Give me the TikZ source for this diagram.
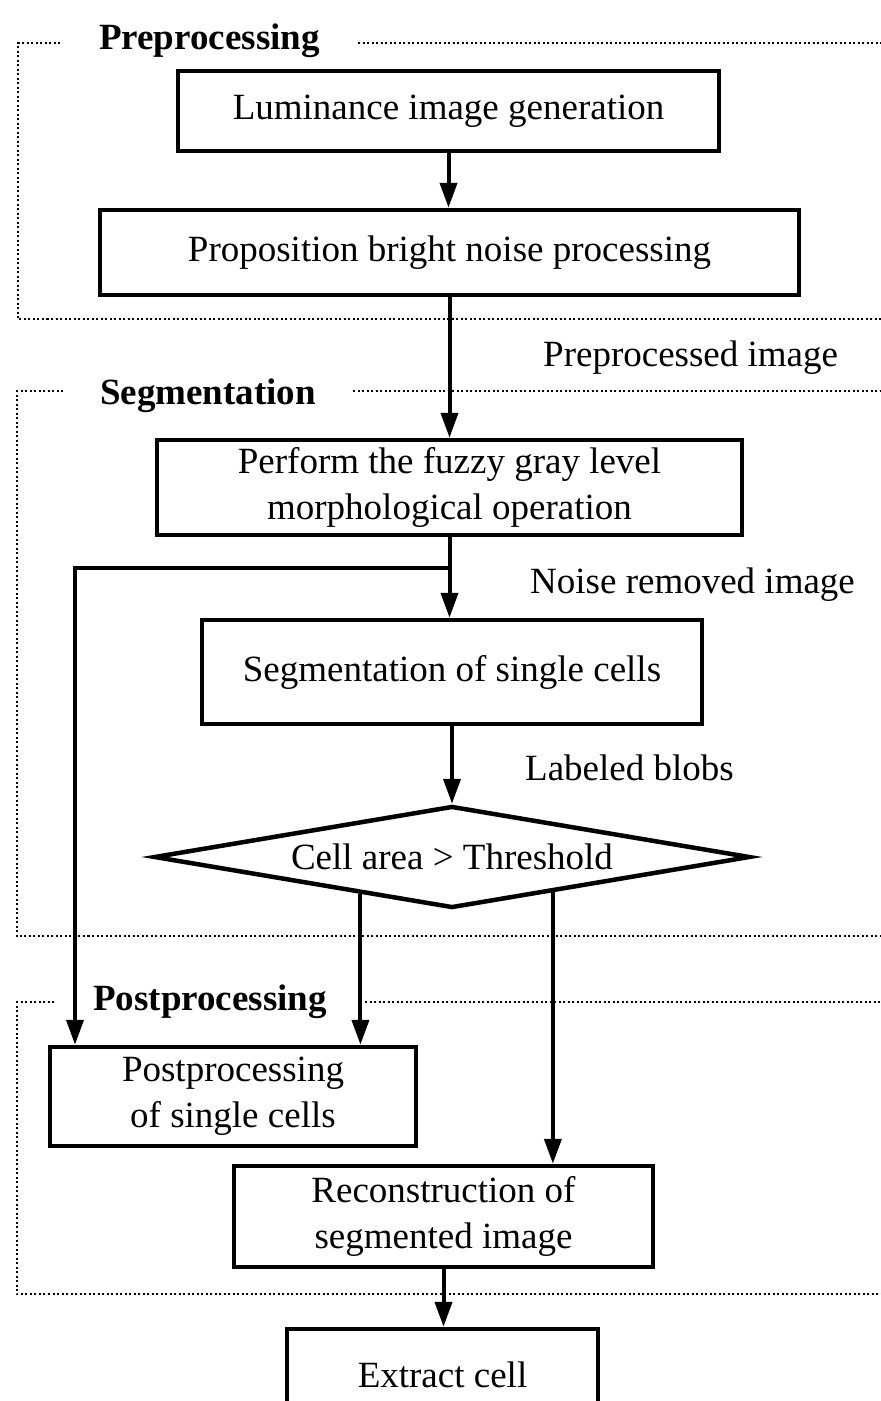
\documentclass[tikz,border=0pt]{standalone}
\usepackage{fontspec}
\setmainfont{Liberation Serif}
\usetikzlibrary{arrows.meta,shapes.geometric,calc}

\tikzset{
  procbox/.style={draw, line width=4.5pt, inner sep=0pt, align=center,
    font=\fontsize{37}{46}\selectfont},
  decision/.style={draw, diamond, line width=4.5pt, inner sep=0pt,
    shape aspect=5.84, font=\fontsize{37}{46}\selectfont},
  flow/.style={line width=4pt, -{Triangle[length=25pt,width=17pt]}},
  frameline/.style={line width=2pt, dash pattern=on 2pt off 2.5pt},
  stage/.style={font=\fontsize{37}{46}\selectfont\bfseries, anchor=base west, inner sep=0pt},
  note/.style={font=\fontsize{37}{46}\selectfont, anchor=base west, inner sep=0pt}
}

\begin{document}
\begin{tikzpicture}[x=1pt, y=-1pt]
  \useasboundingbox (0,0) rectangle (881,1401);
  \clip (0,0) rectangle (881,1401);
  \fill[white] (0,0) rectangle (881,1401);

  % stage frames (open on the right)
  \draw[frameline] (60,43) -- (18,43) -- (18,319) -- (881,319);
  \draw[frameline] (358,43) -- (881,43);
  \node[stage] (tpre) at (99,49) {Preprocessing};

  \draw[frameline] (63,391) -- (17,391) -- (17,936) -- (881,936);
  \draw[frameline] (353,391) -- (881,391);
  \node[stage] (tseg) at (100,404) {Segmentation};

  \draw[frameline] (54,1002) -- (17,1002) -- (17,1294) -- (881,1294);
  \draw[frameline] (365,1002) -- (881,1002);
  \node[stage] (tpost) at (93,1010) {Postprocessing};

  % processing steps
  \node[procbox, minimum width=541, minimum height=80] (b1) at (448.5,111)
    {Luminance image generation};
  \node[procbox, minimum width=699, minimum height=85] (b2) at (449.5,252.5)
    {Proposition bright noise processing};
  \node[procbox, minimum width=585, minimum height=95] (b3) at (449.5,487.5)
    {Perform the fuzzy gray level\\morphological operation};
  \node[procbox, minimum width=500, minimum height=104] (b4) at (452,672)
    {Segmentation of single cells};
  \node[decision, minimum width=596, minimum height=102] (dia) at (452,857)
    {Cell area > Threshold};
  \node[procbox, minimum width=366, minimum height=99] (pp) at (233,1096.5)
    {Postprocessing\\of single cells};
  \node[procbox, minimum width=419, minimum height=101] (rc) at (443.5,1216.5)
    {Reconstruction of\\segmented image};
  \node[procbox, minimum width=311, minimum height=92] (ex) at (442.5,1375)
    {Extract cell};

  % data labels
  \node[note] (lpre) at (543,366) {Preprocessed image};
  \node[note] (lnoise) at (530,593) {Noise removed image};
  \node[note] (lblob) at (525,780) {Labeled blobs};

  % connectors
  \draw[flow] (b1.south) -- (b1.south |- b2.north);
  \draw[flow] (b2.south) -- (b2.south |- b3.north);
  \draw[flow] (b3.south) -- (b3.south |- b4.north);
  \coordinate (br) at (b3.south |- 0,568);
  \coordinate (lft) at (75,568);
  \draw[flow] (br) -- (lft) -- (lft |- pp.north);
  \draw[flow] (b4.south) -- (b4.south |- dia.north);
  \coordinate (dl) at ($(dia.west)!0.695!(dia.south)$);
  \coordinate (dr) at ($(dia.south)!0.336!(dia.east)$);
  \draw[flow] (dl) -- (dl |- pp.north);
  \draw[flow] (dr) -- (dr |- rc.north);
  \draw[flow] (rc.south) -- (rc.south |- ex.north);
\end{tikzpicture}
\end{document}
